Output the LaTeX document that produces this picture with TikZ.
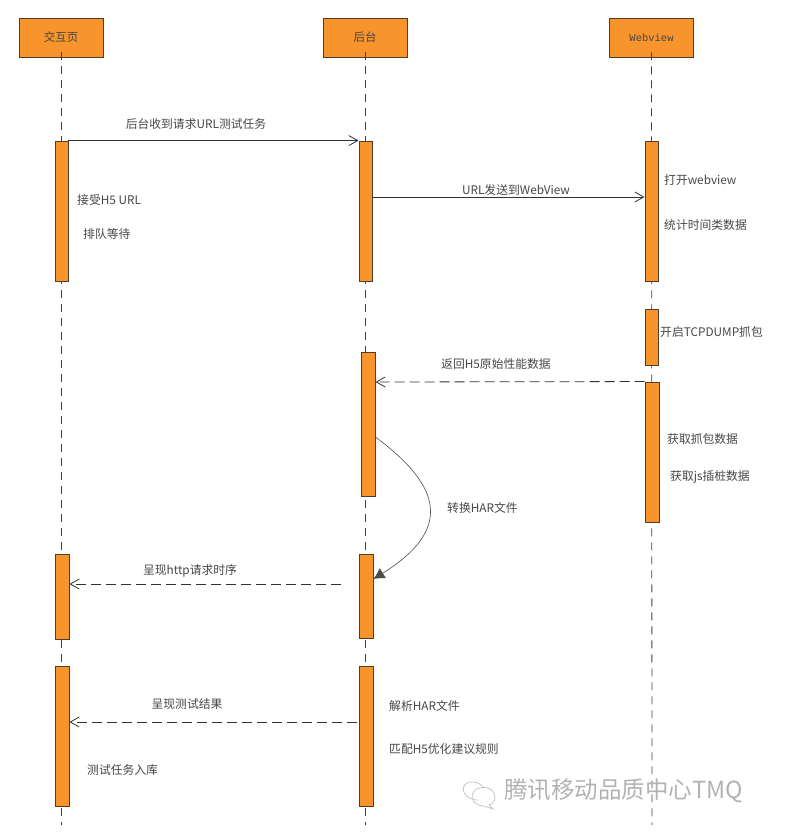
\documentclass[tikz,border=0pt]{standalone}
\usepackage{fontspec}
\setmainfont{Noto Sans CJK SC}
\newfontfamily\monofont{Liberation Mono}
\usetikzlibrary{arrows.meta}
\definecolor{myorange}{RGB}{247,148,44}
\definecolor{myedge}{RGB}{80,60,45}
\definecolor{mytext}{RGB}{70,70,70}
\tikzset{
		headStyle/.style = 	{draw=myedge, fill=myorange, line width=0.9pt, minimum width=84pt, minimum height=39pt, inner sep=0pt, text=mytext, font=\fontsize{11.5}{13}\selectfont},
		barStyle/.style = 	{draw=myedge, fill=myorange, line width=0.9pt, minimum width=13pt, inner sep=0pt},
		lifeStyle/.style = 	{line width=0.8pt, color=black!75, dash pattern=on 8pt off 6pt},
		msgStyle/.style = 	{line width=0.8pt, color=black!80, -{Straight Barb[length=9pt,width=10pt]}},
		backStyle/.style = 	{msgStyle, dash pattern=on 10pt off 5pt},
		textStyle/.style = 	{text=mytext, inner sep=0pt, font=\fontsize{11.8}{13}\selectfont}
}

\begin{document}
\begin{tikzpicture}[x=1pt,y=-1pt]
  \useasboundingbox (0,0) rectangle (807,839);

  % Draw heads
  \node [headStyle] (page) at (61,37.5) {交互页};
  \node [headStyle] (back) at (365,37.5) {后台};
  \node [headStyle, font=\monofont\fontsize{10.5}{12}\selectfont] (web) at (651.5,37.5) {Webview};

  % Draw lifelines
  \coordinate (pageEnd) at (61,825);
  \coordinate (backEnd) at (365,825);
  \coordinate (webEnd) at (652,825);
  \foreach \x in {page,back,web}
    \draw [lifeStyle] ([yshift=5pt]\x.south) -- (\x End);

  % Draw bars
  \foreach \name/\x/\top/\len/\wid in {pageA/61.5/141/140/13, pageB/62/554/85/14, pageC/62/666/140/14,
      backA/365.5/141/140/13, backB/368/352/144/14, backC/366/554/84/14, backD/366/666/140/14,
      webA/651.5/141/140/13, webB/651.5/309/56/13, webC/652/382/140/14}
    \node [barStyle, minimum height=\len pt, minimum width=\wid pt] (\name) at (\x,\top+0.5*\len) {};

  % Draw messages
  \draw [msgStyle] (pageA.north east) -- (backA.north west);
  \draw [msgStyle] (backA.east |- 0,197) -- (webA.west |- 0,197);
  \draw [backStyle] (webC.north west) -- (backB.east |- 0,382);
  \coordinate (httpStart) at (341,584);
  \draw [backStyle] (httpStart) -- (pageB.east |- httpStart);
  \coordinate (resultStart) at (357,722);
  \draw [backStyle] (resultStart) -- (pageC.east |- resultStart);
  \draw [line width=0.6pt, color=black!70, -{Latex[length=11pt,width=12pt]}]
    (backB.east |- 0,437) .. controls (443,487) and (452,530) .. (backC.east |- 0,579);

  % Draw labels
  \node [textStyle] (reqText) at (196,124) {后台收到请求URL测试任务};
  \node [textStyle, anchor=west] (h5Text) at (77,200) {接受H5 URL};
  \node [textStyle, anchor=west] (waitText) at (83,234) {排队等待};
  \node [textStyle] (urlText) at (516,190) {URL发送到WebView};
  \node [textStyle, anchor=west] (openText) at (664,180) {打开webview};
  \node [textStyle, anchor=west] (statText) at (664,225) {统计时间类数据};
  \node [textStyle, anchor=west] (tcpText) at (660,332) {开启TCPDUMP抓包};
  \node [textStyle] (rawText) at (496,364) {返回H5原始性能数据};
  \node [textStyle, anchor=west] (getText) at (667,439) {获取抓包数据};
  \node [textStyle, anchor=west] (jsText) at (670,477) {获取js插桩数据};
  \node [textStyle, anchor=west] (harText) at (447,508) {转换HAR文件};
  \node [textStyle] (httpText) at (190,571) {呈现http请求时序};
  \node [textStyle] (resultText) at (187,704) {呈现测试结果};
  \node [textStyle, anchor=west] (parseText) at (389,706) {解析HAR文件};
  \node [textStyle, anchor=west] (ruleText) at (389,749) {匹配H5优化建议规则};
  \node [textStyle, anchor=west] (saveText) at (87,770) {测试任务入库};

  % Draw watermark
  \node [inner sep=0pt, anchor=west, text=black!30, font=\fontsize{23.5}{26}\selectfont] (markText) at (504,791) {腾讯移动品质中心TMQ};
  \draw [black!22, line width=0.8pt] (478,800) .. controls (462,800) and (457,782) .. (473,782)
    .. controls (480,782) and (484,788) .. (484,788);
  \draw [black!22, line width=0.8pt] (480,788) .. controls (495,784) and (500,802) .. (489,805)
    -- (493,809) -- (484,806) .. controls (470,806) and (468,790) .. (480,788);
\end{tikzpicture}
\end{document}
